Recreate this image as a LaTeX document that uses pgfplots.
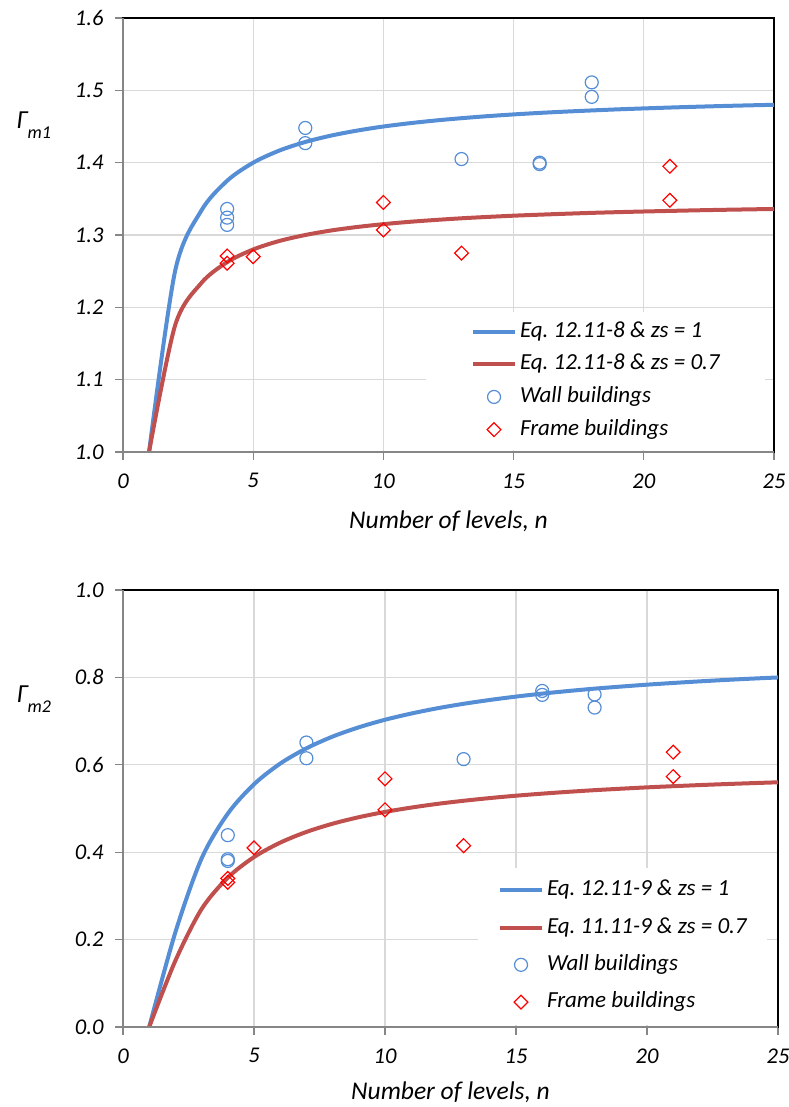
\documentclass[border=0pt]{standalone}
\usepackage{fontspec}
\setmainfont{Carlito}
\usepackage{pgfplots}
\pgfplotsset{compat=1.18}
\definecolor{cblue}{HTML}{558ED5}
\definecolor{cred}{HTML}{C0504D}
\definecolor{gridc}{HTML}{D9D9D9}
\definecolor{axc}{HTML}{868686}
\pgfplotsset{
  mystyle/.style={
    scale only axis,
    xmin=0, xmax=25, xtick={0,5,10,15,20,25},
    grid=major, major grid style={gridc, line width=1.3pt},
    axis line style={black, line width=1.3pt},
    tick align=outside, xtick pos=bottom, ytick pos=left,
    major tick length=8pt,
    every tick/.style={axc, line width=1.3pt},
    /pgf/number format/assume math mode=true,
    ticklabel style={font=\itshape\fontsize{22.5}{22.5}\selectfont},
    xticklabel style={yshift=-10pt},
    yticklabel style={/pgf/number format/fixed,/pgf/number format/fixed zerofill,/pgf/number format/precision=1, xshift=-8pt},
    xlabel={Number of levels, n},
    xlabel style={font=\itshape\fontsize{25.5}{25.5}\selectfont, at={(axis description cs:0.5,0)}, anchor=base},
    ylabel style={font=\itshape\fontsize{26}{26}\selectfont, rotate=-90, anchor=center},
    legend cell align=left,
    legend image code/.code={\draw[mark repeat=2,mark phase=2,#1] plot coordinates {(0pt,0pt) (21pt,0pt) (42pt,0pt)};},
    legend style={draw=none, fill=white, font=\itshape\fontsize{23}{27}\selectfont,
      nodes={inner sep=0pt, text height=15.5pt, text depth=4.5pt}, anchor=south east},
    /tikz/every odd column/.append style={column sep=3pt},
  },
  curveA/.style={cblue, line width=4pt, smooth, no markers},
  curveB/.style={cred, line width=4pt, smooth, no markers},
  wallm/.style={only marks, mark=o, mark size=6.5pt, mark options={cblue, line width=1.2pt}},
  framem/.style={only marks, mark=square, mark size=4.9pt, mark options={red, rotate=45, line width=1.2pt}},
}
\begin{document}
\frenchspacing
\begin{tikzpicture}
\useasboundingbox (0,0) rectangle (788pt,-1107pt);
% ---------------- top chart ----------------
\begin{axis}[mystyle, name=top, at={(123pt,-452pt)}, anchor=south west,
  width=651pt, height=434pt, ymin=1, ymax=1.6,
  ytick={1.0,1.1,1.2,1.3,1.4,1.5,1.6},
  xlabel style={yshift=-76pt},
  ylabel={Γ\raisebox{-10pt}{\fontsize{18}{18}\selectfont m1}},
  ylabel style={at={(axis description cs:-0.137,0.752)}},
  legend style={at={(0.986,0.005)}, inner xsep=45pt, inner ysep=10pt, row sep=12.7pt}]
\addplot[curveA] table {
1 1.0
2 1.25
3 1.3333
4 1.375
5 1.4
6 1.4167
7 1.4286
8 1.4375
9 1.4444
10 1.45
11 1.4545
12 1.4583
13 1.4615
14 1.4643
15 1.4667
16 1.4688
17 1.4706
18 1.4722
19 1.4737
20 1.475
21 1.4762
22 1.4773
23 1.4783
24 1.4792
25 1.48
};
\addplot[curveB] table {
1 1.0
2 1.175
3 1.2333
4 1.2625
5 1.28
6 1.2917
7 1.3
8 1.3063
9 1.3111
10 1.315
11 1.3182
12 1.3208
13 1.3231
14 1.325
15 1.3267
16 1.3281
17 1.3294
18 1.3306
19 1.3316
20 1.3325
21 1.3333
22 1.3341
23 1.3348
24 1.3354
25 1.336
};
\addplot[wallm] table {
4 1.336
4 1.324
4 1.314
7 1.448
7 1.427
13 1.405
16 1.400
16 1.398
18 1.511
18 1.491
};
\addplot[framem] table {
4 1.271
4 1.261
5 1.270
10 1.345
10 1.307
13 1.275
21 1.395
21 1.348
};
\legend{Eq. 12.11-8 \& zs = 1, Eq. 12.11-8 \& zs = 0.7, Wall buildings, Frame buildings}
\end{axis}
\draw[axc, line width=1.5pt] (top.north west) -- (top.south west) -- (top.south east);
% ---------------- bottom chart ----------------
\begin{axis}[mystyle, name=bot, at={(123pt,-1027pt)}, anchor=south west,
  width=655pt, height=437pt, ymin=0, ymax=1,
  ytick={0,0.2,0.4,0.6,0.8,1.0},
  xlabel style={yshift=-72pt},
  ylabel={Γ\raisebox{-10pt}{\fontsize{18}{18}\selectfont m2}},
  ylabel style={at={(axis description cs:-0.136,0.75)}},
  legend style={at={(0.983,0.005)}, inner xsep=20pt, inner ysep=12.5pt, row sep=17.3pt}]
\addplot[curveA] table {
1 0
2 0.217
3 0.3858
4 0.4883
5 0.5555
6 0.6028
7 0.6377
8 0.6646
9 0.6858
10 0.7031
11 0.7173
12 0.7294
13 0.7396
14 0.7484
15 0.7561
16 0.7629
17 0.7689
18 0.7743
19 0.7790
20 0.7834
21 0.7873
22 0.7909
23 0.7942
24 0.7972
25 0.7999
};
\addplot[curveB] table {
1 0
2 0.1519
3 0.2700
4 0.3418
5 0.3889
6 0.4219
7 0.4464
8 0.4652
9 0.4801
10 0.4922
11 0.5021
12 0.5106
13 0.5177
14 0.5239
15 0.5293
16 0.5340
17 0.5382
18 0.5420
19 0.5453
20 0.5484
21 0.5511
22 0.5536
23 0.5559
24 0.5580
25 0.5600
};
\addplot[wallm] table {
4 0.439
4 0.384
4 0.380
7 0.651
7 0.615
13 0.613
16 0.769
16 0.760
18 0.761
18 0.731
};
\addplot[framem] table {
4 0.340
4 0.331
5 0.410
10 0.568
10 0.497
13 0.415
21 0.629
21 0.573
};
\legend{Eq. 12.11-9 \& zs = 1, Eq. 11.11-9 \& zs = 0.7, Wall buildings, Frame buildings}
\end{axis}
\draw[axc, line width=1.5pt] (bot.north west) -- (bot.south west) -- (bot.south east);
\end{tikzpicture}
\end{document}
